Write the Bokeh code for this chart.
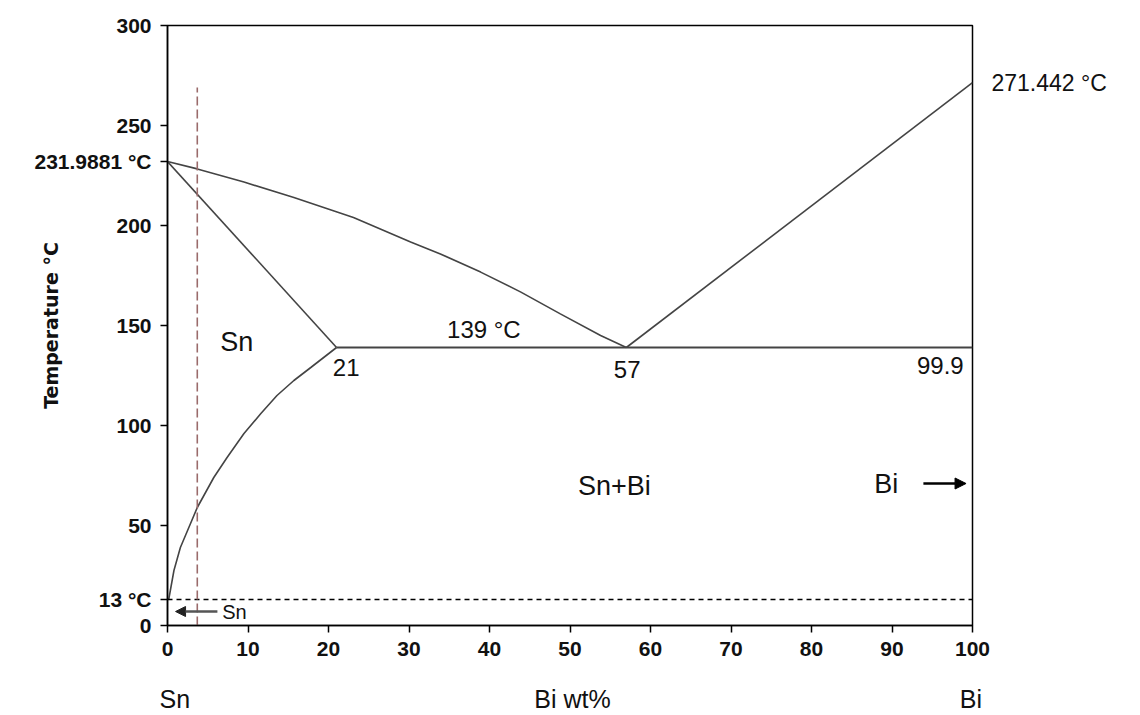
import numpy as np
from bokeh.plotting import figure
from bokeh.models import Label, Arrow, NormalHead, LinearAxis, FixedTicker
from bokeh.embed import file_html
from bokeh.resources import INLINE

# ---- data ----
liquidus_sn_x = [0, 3.7, 9.5, 15.7, 23.1, 30.2, 33.9, 38.9, 43.9, 48.8, 53.8, 57]
liquidus_sn_t = [231.9881, 228.3, 221.7, 214, 204, 191.7, 185.8, 176.7, 166.7, 155.8, 145, 139]
liquidus_bi_x = [57, 100]
liquidus_bi_t = [139, 271.442]
solidus_x = [0, 21]
solidus_t = [231.9881, 139]
solvus_x = [21, 17.8, 15.7, 13.6, 11.6, 9.5, 7.4, 5.75, 3.7, 2.65, 1.6, 0.8, 0.15]
solvus_t = [139, 129, 122.5, 115, 106, 96, 84, 74, 59, 49, 39, 27.5, 13]
eutectic_x = [21, 100]
eutectic_t = [139, 139]
transition_t = 13
alloy_x = [3.7, 3.7]
alloy_t = [0, 269]
x_ticks = [0, 10, 20, 30, 40, 50, 60, 70, 80, 90, 100]
y_ticks = [0, 13, 50, 100, 150, 200, 231.9881, 250, 300]
y_tick_text = {13: "13 °C", 231.9881: "231.9881 °C"}
right_ticks = [271.442]
right_tick_text = {271.442: "271.442 °C"}
bottom_pos = [0.9, 50.3, 99.8]
bottom_text = {0.9: "Sn", 50.3: "Bi wt%", 99.8: "Bi"}

FONT = "Liberation Sans"
INK = "#111111"

p = figure(width=1140, height=715, x_range=(0, 100), y_range=(0, 300),
           output_backend="svg", toolbar_location=None,
           min_border_left=167, min_border_right=168,
           min_border_top=25, min_border_bottom=90)
p.grid.visible = False
p.outline_line_color = "black"
p.outline_line_width = 1.5
p.background_fill_color = "white"
p.border_fill_color = "white"

for ax in (p.xaxis[0], p.yaxis[0]):
    ax.axis_line_color = "black"
    ax.axis_line_width = 1.5
    ax.major_tick_line_color = "black"
    ax.major_tick_line_width = 1.5
    ax.major_tick_out = 7
    ax.major_tick_in = 0
    ax.minor_tick_line_color = None
    ax.major_label_text_font = FONT
    ax.major_label_text_font_style = "bold"
    ax.major_label_text_font_size = "21px"
    ax.major_label_text_color = INK
    ax.major_label_standoff = 9
p.xaxis.ticker = FixedTicker(ticks=x_ticks)
p.yaxis.ticker = FixedTicker(ticks=y_ticks)
p.yaxis.major_label_overrides = y_tick_text
p.yaxis.axis_label = "Temperature °C"
p.yaxis.axis_label_text_font = "DejaVu Sans"
p.yaxis.axis_label_text_font_style = "bold"
p.yaxis.axis_label_text_font_size = "19px"
p.yaxis.axis_label_text_color = INK
p.yaxis.axis_label_standoff = -30

# right side annotation axis
rax = LinearAxis(ticker=FixedTicker(ticks=right_ticks),
                 major_label_overrides=right_tick_text,
                 axis_line_color=None, major_tick_line_color=None,
                 minor_tick_line_color=None, major_label_standoff=13,
                 major_label_text_font=FONT, major_label_text_font_size="23px",
                 major_label_text_color=INK)
p.add_layout(rax, "right")

# bottom label axis (Sn / Bi wt% / Bi)
bax = LinearAxis(ticker=FixedTicker(ticks=bottom_pos),
                 major_label_overrides=bottom_text,
                 axis_line_color=None, major_tick_line_color=None,
                 minor_tick_line_color=None, major_label_standoff=20,
                 major_label_text_font=FONT, major_label_text_font_size="25px",
                 major_label_text_color=INK)
p.add_layout(bax, "below")

line_col = "#444444"
p.line(liquidus_sn_x, liquidus_sn_t, line_color=line_col, line_width=1.6)
p.line(liquidus_bi_x, liquidus_bi_t, line_color=line_col, line_width=1.6)
p.line(solidus_x, solidus_t, line_color=line_col, line_width=1.6)
p.line(solvus_x, solvus_t, line_color=line_col, line_width=1.6)
p.line(eutectic_x, eutectic_t, line_color=line_col, line_width=1.8)
p.line([0, 100], [transition_t, transition_t], line_color="black",
       line_width=1.4, line_dash="5 4")
p.line(alloy_x, alloy_t, line_color="#9a6b6b", line_width=1.6, line_dash="9 4")

def lab(x, y, text, size="24px", align="left", baseline="middle", style="normal"):
    p.add_layout(Label(x=x, y=y, text=text, text_font=FONT,
                       text_font_size=size, text_align=align,
                       text_baseline=baseline, text_font_style=style,
                       text_color=INK))

lab(39.3, 148, "139 °C", align="center")
lab(22.2, 129, "21", align="center")
lab(57.1, 128, "57", align="center")
lab(98.9, 130, "99.9", align="right")
lab(8.6, 142, "Sn", size="27px", align="center")
lab(55.5, 70, "Sn+Bi", size="27px", align="center")
lab(89.3, 71, "Bi", size="27px", align="center")
lab(6.8, 7, "Sn", size="20px", align="left")

p.add_layout(Arrow(end=NormalHead(size=11, fill_color="black", line_color="black"),
                   x_start=93.9, y_start=71, x_end=99.2, y_end=71,
                   line_color="black", line_width=2.5))
p.add_layout(Arrow(end=NormalHead(size=10, fill_color="#222222", line_color="#222222"),
                   x_start=6.2, y_start=7, x_end=1.0, y_end=7,
                   line_color="#555555", line_width=2.5))

open("out.html", "w").write(file_html(p, INLINE))
